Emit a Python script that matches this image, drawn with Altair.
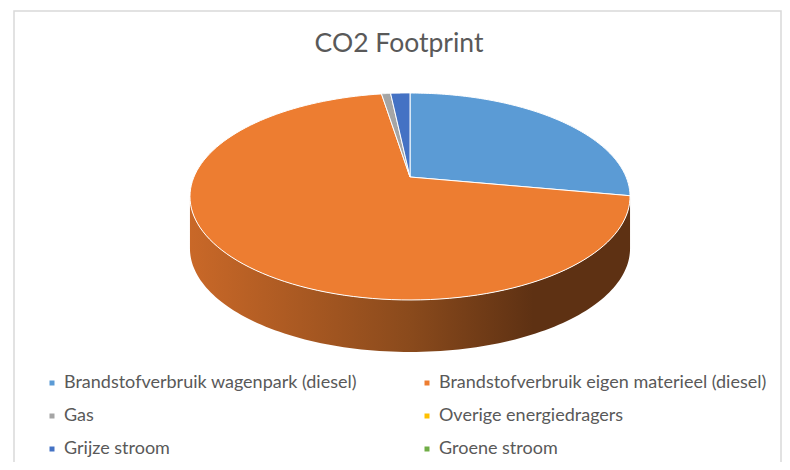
import altair as alt
import pandas as pd

# ---- data ----
categories = [
    "Brandstofverbruik wagenpark (diesel)",
    "Brandstofverbruik eigen materieel (diesel)",
    "Gas",
    "Overige energiedragers",
    "Grijze stroom",
    "Groene stroom",
]
values = [27.9, 69.6, 0.8, 0.0, 1.7, 0.0]

# ---- styles ----
colors = ["#5B9BD5", "#ED7D31", "#A5A5A5", "#FFC000", "#4472C4", "#70AD47"]
side_light = ["#4f86b8", "#c96828", "#8e8e8e", "#d9a300", "#3a61a8", "#5f943c"]
side_mid = ["#3b6690", "#8a4a1c", "#6c6c6c", "#a67c00", "#2c4a80", "#48712d"]
side_dark = ["#2c4d6d", "#5e3113", "#4f4f4f", "#7a5b00", "#203660", "#355421"]

df = pd.DataFrame({"cat": categories, "value": values, "idx": list(range(len(categories)))})

# perspective parameters of the 3-D pie (layout only)
K = 0.1884      # perspective foreshortening
D = 0.521       # thickness of the pie, in vertical radius units
N = 120         # points per arc

XS = alt.Scale(domain=[-1, 1], range=[185.9, 618.1])
YS = alt.Scale(domain=[-1, 1], range=[208.8, 9.2])

base = (
    alt.Chart(df)
    .transform_joinaggregate(total="sum(value)")
    .transform_window(cum="sum(value)", sort=[alt.SortField("idx")], frame=[None, 0])
    .transform_calculate(
        a0="2*PI*(datum.cum - datum.value)/datum.total",
        a1="2*PI*datum.cum/datum.total",
    )
)

# top faces of the slices
top = (
    base.transform_filter("datum.value > 0")
    .transform_calculate(steps=f"sequence(-1, {N + 2})")
    .transform_flatten(["steps"], as_=["k"])
    .transform_calculate(
        ang=f"datum.a0 + (datum.a1 - datum.a0) * clamp(datum.k, 0, {N}) / {N}",
        inside=f"datum.k >= 0 && datum.k <= {N}",
    )
    .transform_calculate(w=f"1 + {K} * cos(datum.ang)")
    .transform_calculate(
        px="datum.inside ? sin(datum.ang) / datum.w : 0",
        py="datum.inside ? cos(datum.ang) / datum.w : 0",
    )
    .mark_line(filled=True, stroke="white", strokeWidth=1, strokeJoin="round")
    .encode(
        x=alt.X("px:Q", scale=XS, axis=None),
        y=alt.Y("py:Q", scale=YS, axis=None),
        order=alt.Order("k:Q"),
        detail="cat:N",
        color=alt.Color(
            "cat:N",
            scale=alt.Scale(domain=categories, range=colors),
            legend=alt.Legend(
                orient="none",
                direction="horizontal",
                legendX=35,
                legendY=306,
                columns=2,
                columnPadding=61,
                rowPadding=15,
                symbolType="square",
                symbolSize=25,
                symbolStrokeWidth=0,
                labelFontSize=18,
                labelFont="Lato",
                labelColor="#595959",
                labelOffset=3,
                labelLimit=500,
                title=None,
            ),
        ),
    )
)

# visible front side of each slice
sides = []
for i in range(len(categories)):
    grad = alt.LinearGradient(
        gradient="linear",
        stops=[
            alt.GradientStop(offset=0, color=side_light[i]),
            alt.GradientStop(offset=0.5, color=side_mid[i]),
            alt.GradientStop(offset=0.78, color=side_dark[i]),
            alt.GradientStop(offset=1, color=side_dark[i]),
        ],
        x1=0, x2=1, y1=0, y2=0,
    )
    s = (
        base.transform_filter(f"datum.idx == {i}")
        .transform_calculate(
            b0=f"max(datum.a0, acos(-{K}))",
            b1=f"min(datum.a1, 2*PI - acos(-{K}))",
        )
        .transform_filter("datum.b1 > datum.b0")
        .transform_calculate(steps=f"sequence(0, {2 * N + 2})")
        .transform_flatten(["steps"], as_=["k"])
        .transform_calculate(
            t=f"datum.k <= {N} ? datum.k : {2 * N + 1} - datum.k",
        )
        .transform_calculate(ang=f"datum.b0 + (datum.b1 - datum.b0) * datum.t / {N}")
        .transform_calculate(w=f"1 + {K} * cos(datum.ang)")
        .transform_calculate(
            px="sin(datum.ang) / datum.w",
            py=f"cos(datum.ang) / datum.w - (datum.k <= {N} ? 0 : {D})",
        )
        .mark_line(filled=True, fill=grad, strokeWidth=0)
        .encode(
            x=alt.X("px:Q", scale=XS, axis=None),
            y=alt.Y("py:Q", scale=YS, axis=None),
            order=alt.Order("k:Q"),
        )
    )
    sides.append(s)

frame = (
    alt.Chart(df)
    .transform_aggregate(n="count()")
    .mark_rect(fillOpacity=0, stroke="#d9d9d9", strokeWidth=1.5)
    .encode(x=alt.value(6), x2=alt.value(773), y=alt.value(-57), y2=alt.value(420))
)

chart = (
    alt.layer(frame, *sides, top)
    .properties(
        width=774,
        height=394,
        background="white",
        padding={"left": 0, "top": 60, "right": 0, "bottom": 0},
        autosize=alt.AutoSizeParams(type="none"),
        title=alt.Title(
            "CO2 Footprint",
            fontSize=26.5,
            font="Lato",
            color="#595959",
            fontWeight="normal",
            anchor="middle",
            frame="group",
            baseline="alphabetic",
            offset=-68,
            dx=4,
        ),
    )
    .configure_view(stroke="transparent", strokeWidth=0)
)

chart.save("out.html", embed_options={"renderer": "svg", "actions": False})
